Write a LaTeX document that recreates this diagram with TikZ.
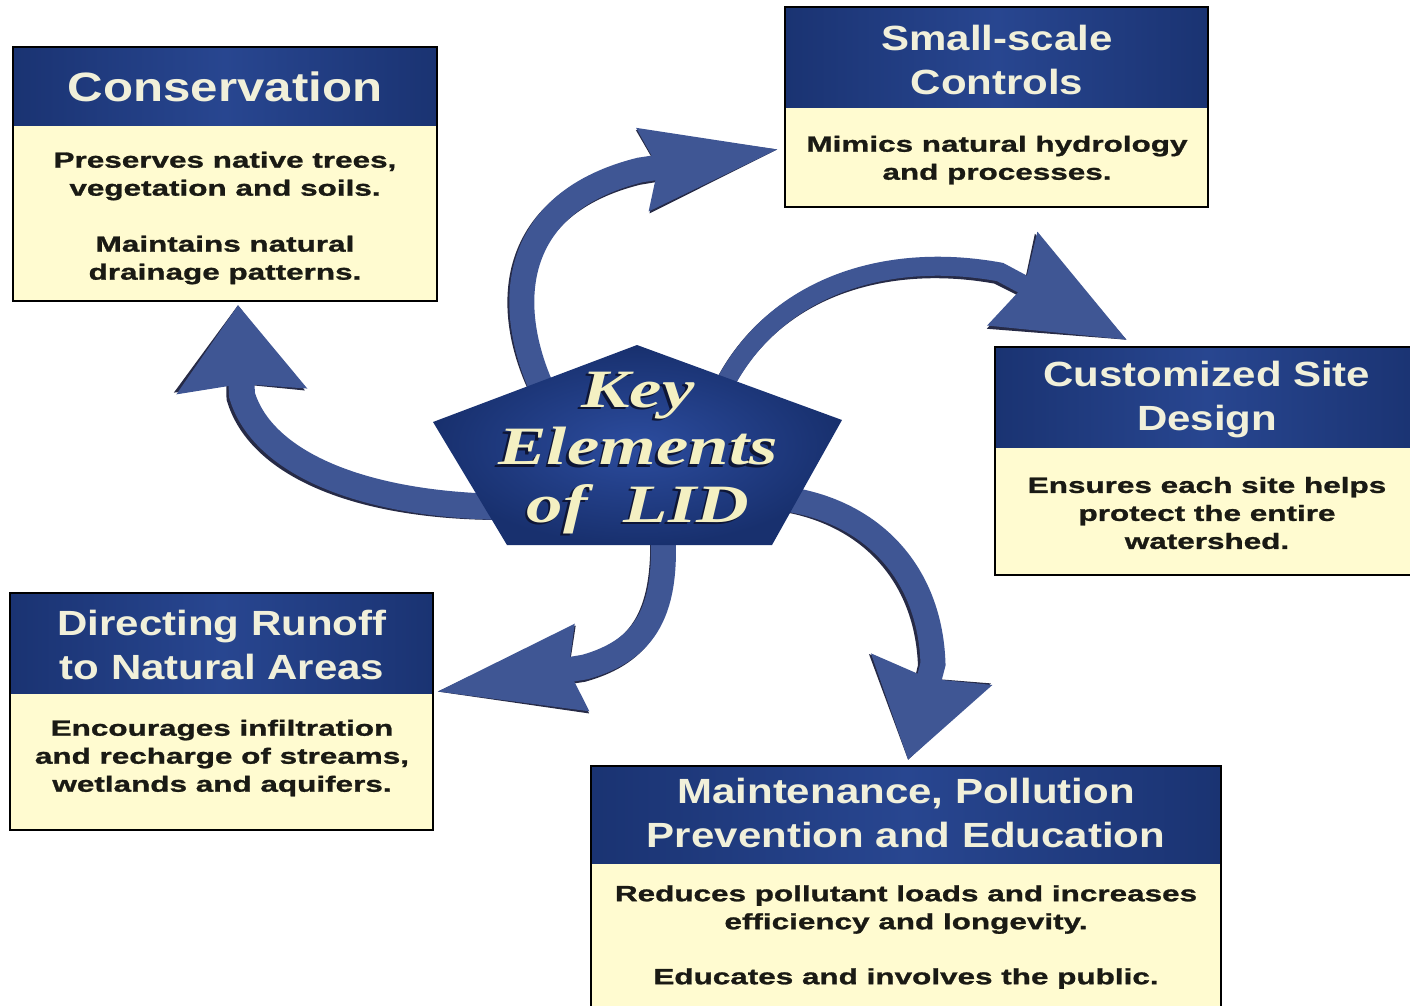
\documentclass[tikz,border=0pt]{standalone}
\usepackage{fontspec}
\usetikzlibrary{arrows.meta}
\newfontfamily\ttlfont[FakeStretch=1.2]{Liberation Sans}
\newfontfamily\bdyfont[FakeStretch=1.43,FakeBold=1.2]{Liberation Sans}
\newfontfamily\keyfont[FakeStretch=1.35]{Liberation Serif}
\definecolor{cream}{HTML}{FFFBD0}
\definecolor{bandA}{HTML}{1A3372}
\definecolor{bandB}{HTML}{284690}
\definecolor{titletext}{HTML}{F1F0DA}
\definecolor{bodytext}{HTML}{1A1A14}
\definecolor{arrowblue}{HTML}{3F5694}
\definecolor{arrowdark}{HTML}{262A46}
\definecolor{pentin}{HTML}{2C4C9E}
\definecolor{pentout}{HTML}{18306E}
\definecolor{keytext}{HTML}{F4F0C2}
\definecolor{keyshade}{HTML}{0E1636}
\tikzset{
  band/.style={left color=bandA, right color=bandA, middle color=bandB},
  boxline/.style={draw=black, line width=2pt},
  ttl/.style={text=titletext, align=center, inner sep=0pt, font=\ttlfont\bfseries\fontsize{35}{44}\selectfont},
  bdy/.style={text=bodytext, align=center, inner sep=0pt, font=\bdyfont\bfseries\fontsize{22}{28}\selectfont},
  arrowmain/.style={draw=arrowblue, fill=arrowblue},
  arrowshadow/.style={draw=arrowdark, fill=arrowdark, shift={(-2.5,2.5)}},
  keytxt/.style={align=center, inner sep=0pt, font=\keyfont\bfseries\itshape\fontsize{54}{57.5}\selectfont}
}
\begin{document}
\begin{tikzpicture}[x=1pt,y=-1pt]
\useasboundingbox (0,0) rectangle (1410,1005);
\fill[white] (0,0) rectangle (1410,1005);

% ---------- boxes ----------
% Conservation
\fill[cream] (13,47) rectangle (437,301);
\shade[band] (13,47) rectangle (437,125);
\draw[boxline] (13,47) rectangle (437,301);
\node[ttl, font=\ttlfont\bfseries\fontsize{41}{44}\selectfont] (consT) at (225,87) {Conservation};
\node[bdy] (consB) at (225,218) {Preserves native trees,\\vegetation and soils.\\[28pt]Maintains natural\\drainage patterns.};

% Small-scale Controls
\fill[cream] (785,7) rectangle (1208,207);
\shade[band] (785,7) rectangle (1208,107);
\draw[boxline] (785,7) rectangle (1208,207);
\node[ttl] (smallT) at (997,60) {Small-scale\\Controls};
\node[bdy] (smallB) at (997,160) {Mimics natural hydrology\\and processes.};

% Customized Site Design
\fill[cream] (995,347) rectangle (1420,575);
\shade[band] (995,347) rectangle (1420,447);
\draw[boxline] (995,347) rectangle (1420,575);
\node[ttl] (custT) at (1207,400) {Customized Site\\Design};
\node[bdy] (custB) at (1207,513) {Ensures each site helps\\protect the entire\\watershed.};

% Directing Runoff
\fill[cream] (10,593) rectangle (433,830);
\shade[band] (10,593) rectangle (433,693);
\draw[boxline] (10,593) rectangle (433,830);
\node[ttl] (dirT) at (222,645) {Directing Runoff\\to Natural Areas};
\node[bdy] (dirB) at (222,758) {Encourages infiltration\\and recharge of streams,\\wetlands and aquifers.};

% Maintenance
\fill[cream] (591,766) rectangle (1221,1010);
\shade[band] (591,766) rectangle (1221,863);
\draw[boxline] (591,1010) -- (591,766) -- (1221,766) -- (1221,1010);
\node[ttl] (mainT) at (906,813) {Maintenance, Pollution\\Prevention and Education};
\node[bdy] (mainB) at (906,937) {Reduces pollutant loads and increases\\efficiency and longevity.\\[27pt]Educates and involves the public.};

% ---------- arrows ----------
\coordinate (a1s) at (505,507); \coordinate (a1t) at (238,305);
\coordinate (a2s) at (550,405); \coordinate (a2t) at (780,149);
\coordinate (a3s) at (715,405); \coordinate (a3t) at (1127,340);
\coordinate (a4s) at (765,497); \coordinate (a4t) at (908,760);
\coordinate (a5s) at (662,520); \coordinate (a5t) at (435,692);

\foreach \sty in {arrowshadow,arrowmain}{
  \begin{scope}[\sty]
  \draw[line width=26pt, -{Stealth[length=85pt,width=126pt,inset=6pt]}]
    (a1s) .. controls (360,505) and (262,462) .. (242,395) -- (a1t);
  \draw[line width=25pt, -{Stealth[length=135pt,width=78pt,inset=12pt]}]
    (a2s) .. controls (505,320) and (500,205) .. (640,170) -- (a2t);
  \draw[line width=19pt, -{Stealth[length=128pt,width=102pt,inset=12pt]}]
    (a3s) .. controls (762,290) and (880,250) .. (1000,272) -- (a3t);
  \draw[line width=25pt, -{Stealth[length=92pt,width=120pt,inset=8pt]}]
    (a4s) .. controls (862,502) and (930,565) .. (933,664) -- (a4t);
  \draw[line width=25pt, -{Stealth[length=145pt,width=82pt,inset=10pt]}]
    (a5s) .. controls (670,612) and (645,650) .. (585,667) -- (a5t);
  \end{scope}
}

% ---------- central pentagon ----------
\coordinate (p1) at (637,345);
\coordinate (p2) at (842,420);
\coordinate (p3) at (772,545);
\coordinate (p4) at (507,545);
\coordinate (p5) at (433,422);
\shade[inner color=pentin, outer color=pentout] (p1) -- (p2) -- (p3) -- (p4) -- (p5) -- cycle;
\node[keytxt, text=keyshade] (keyS) at (635.5,455.5) {Key\\Elements\\of\ \ LID};
\node[keytxt, text=keytext] (key) at (638,453) {Key\\Elements\\of\ \ LID};
\end{tikzpicture}
\end{document}
